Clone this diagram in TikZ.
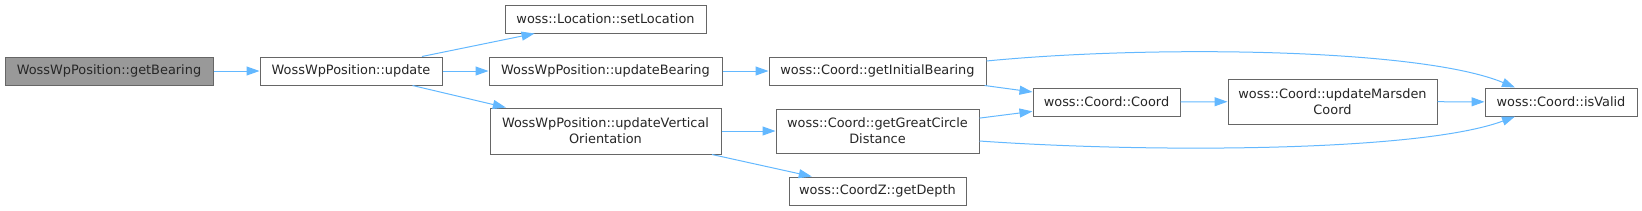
\documentclass[tikz,border=0pt]{standalone}
\usepackage{fontspec}
\setmainfont{DejaVu Sans}
\usetikzlibrary{arrows.meta}
\definecolor{edgeblue}{HTML}{63B8FF}
\definecolor{boxborder}{HTML}{666666}
\definecolor{rootfill}{HTML}{999999}
\tikzset{
  fn/.style={draw=boxborder, line width=1pt, fill=white, inner sep=0pt, minimum height=28pt,
    font=\fontsize{12.9}{16}\selectfont, align=center, text=black!85},
  root/.style={fn, fill=rootfill},
  call/.style={draw=edgeblue, line width=1pt, -{Triangle[length=13pt,width=9pt]}}
}
\begin{document}
\begin{tikzpicture}[x=1pt,y=-1pt]
\useasboundingbox (0,0) rectangle (1642,210);
\node[root, minimum width=208pt] (gb) at (109,71) {WossWpPosition::getBearing};
\node[fn, minimum width=182pt] (up) at (351,71) {WossWpPosition::update};
\node[fn, minimum width=201pt] (sl) at (605.5,19) {woss::Location::setLocation};
\node[fn, minimum width=233pt] (ub) at (605.5,71) {WossWpPosition::updateBearing};
\node[fn, minimum width=231pt, minimum height=46pt] (uv) at (605.5,131) {WossWpPosition::updateVertical\\Orientation};
\node[fn, minimum width=217pt] (ib) at (877.5,71) {woss::Coord::getInitialBearing};
\node[fn, minimum width=203pt, minimum height=44pt] (gc) at (877.5,131) {woss::Coord::getGreatCircle\\Distance};
\node[fn, minimum width=177pt] (gd) at (877.5,191) {woss::CoordZ::getDepth};
\node[fn, minimum width=147pt] (co) at (1106.5,102) {woss::Coord::Coord};
\node[fn, minimum width=209pt, minimum height=45pt] (um) at (1332.5,101.5) {woss::Coord::updateMarsden\\Coord};
\node[fn, minimum width=152pt] (iv) at (1561,102) {woss::Coord::isValid};

\draw[call] (gb) -- (up);
\draw[call] (up) -- (sl);
\draw[call] (up) -- (ub);
\draw[call] (up) -- (uv);
\draw[call] (ub) -- (ib);
\draw[call] (uv) -- (gc);
\draw[call] (uv) -- (gd);
\draw[call] (ib) -- (co);
\draw[call] (gc) -- (co);
\draw[call] (co) -- (um);
\draw[call] (um) -- (iv);
\draw[call] (ib.east |- 0,61) .. controls (1150,45) and (1420,48) .. (iv.north -| 1515,0);
\draw[call] (gc.east |- 0,141) .. controls (1150,153) and (1420,152) .. (iv.south -| 1515,0);
\end{tikzpicture}
\end{document}
